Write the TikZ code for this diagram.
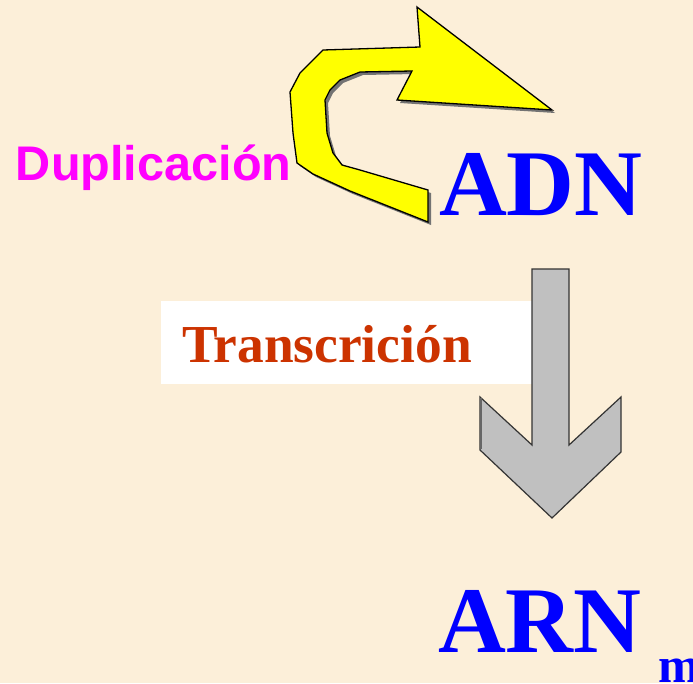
\documentclass[tikz,border=0pt]{standalone}
\usepackage{fontspec}
\setmainfont{Liberation Serif}
\newfontfamily\arialfont{Liberation Sans}
\definecolor{bgcream}{RGB}{252,239,217}
\definecolor{arrowyellow}{RGB}{255,255,0}
\definecolor{arrowgray}{RGB}{192,192,192}
\definecolor{txtred}{RGB}{204,51,0}
\definecolor{txtblue}{RGB}{0,0,255}
\definecolor{txtmagenta}{RGB}{255,0,255}
\tikzset{
  lbl/.style={anchor=base west, inner sep=0pt, outer sep=0pt},
  bigblue/.style={lbl, text=txtblue, font=\fontsize{94}{94}\selectfont\bfseries},
}
\begin{document}
\begin{tikzpicture}[x=1pt,y=-1pt]
\fill[bgcream] (0,0) rectangle (693,683);
\useasboundingbox (0,0) rectangle (693,683);

% yellow curved arrow (shadow then shape)
\def\yarrow{(428,222) -- (350,191) -- (313,174) -- (297,163) -- (293,133) -- (290,92) -- (300,73) -- (313,60) -- (323,50) -- (420,47) -- (417,7) -- (552,110) -- (397,100) -- (412,71) -- (360,72) -- (340,80) -- (330,90) -- (325,100) -- (327,133) -- (333,153) -- (342,165) -- (360,170) -- (428,190) -- cycle}
\fill[black!55, shift={(3,3)}] \yarrow;
\filldraw[fill=arrowyellow, draw=black, line width=1.3pt, line join=miter] \yarrow;

% white label box and gray down arrow
\fill[white] (161,301) rectangle (532,384);
\filldraw[fill=arrowgray, draw=black!80, line width=1.2pt]
  (532,269) -- (569,269) -- (569,445) -- (621,397) -- (621,452) -- (552,518) -- (480,450) -- (480,397) -- (532,445) -- cycle;
\draw[black!60, line width=2pt] (481,398) -- (481,449);

\node[lbl, text=txtmagenta, font=\arialfont\fontsize{48.6}{48.6}\selectfont\bfseries] (dup) at (16,180) {Duplicación};
\node[lbl, text=txtred, font=\fontsize{53.4}{53.4}\selectfont\bfseries] (trans) at (182,362) {Transcrición};
\node[bigblue] (adn) at (439,215) {ADN};
\node[bigblue] (arn) at (438,652) {ARN};
\node[lbl, text=txtblue, font=\fontsize{50}{50}\selectfont\bfseries] (msub) at (658,682) {m};
\end{tikzpicture}
\end{document}
